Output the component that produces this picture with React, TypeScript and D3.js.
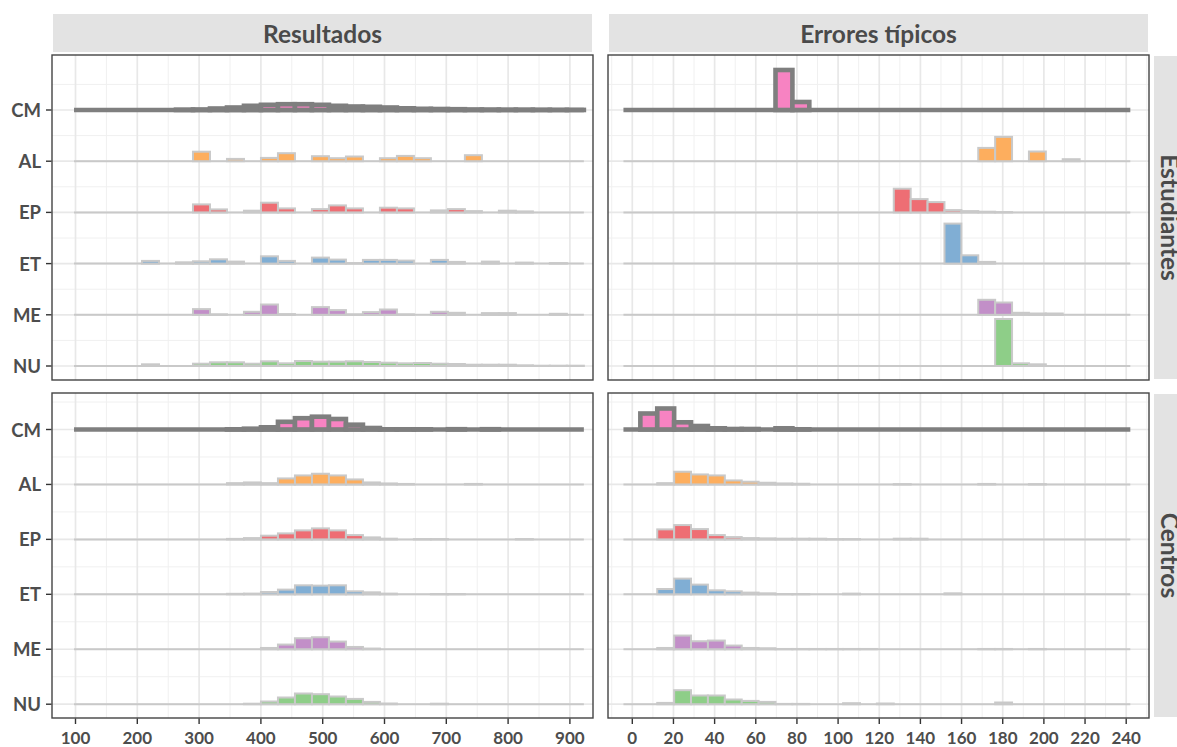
import React from 'react';
import * as d3 from 'd3';

// ---------- data ----------
const groups = ['CM', 'AL', 'EP', 'ET', 'ME', 'NU'];
const rowFacets = ['Estudiantes', 'Centros'];
const colFacets = ['Resultados', 'Errores típicos'];
const resultTicks = [100, 200, 300, 400, 500, 600, 700, 800, 900];
const errorTicks = [0, 20, 40, 60, 80, 100, 120, 140, 160, 180, 200, 220, 240];

// histogram bins (30 bins per column facet)
const resultBinStart = 97.6;
const resultBinWidth = 27.5;
const errorBinStart = -4.3;
const errorBinWidth = 8.21;

const groupColors = ['#F783C2', '#FDAE5E', '#EE6E74', '#80AED4', '#C28FC8', '#8ECE88'];

// bin heights (scaled density), Resultados x Estudiantes
const resEstCM = [0, 0, 0, 0, 0, 0, 0.3, 0.5, 1.5, 2.5, 4.2, 5.2, 5.8, 5.8, 5.2, 4.2, 3.5, 3.2, 2.5, 1.7, 1.2, 1, 0.8, 0.5, 0.4, 0.3, 0.3, 0.2, 0.1, 0.1];
const resEstAL = [0, 0, 0, 0, 0, 0, 0, 9.5, 0, 2.3, 0, 3.3, 8, 0, 5, 3, 4.7, 0, 3, 5.3, 3, 0, 0, 6, 0, 0, 0, 0, 0, 0];
const resEstEP = [0, 0, 0, 0, 0, 0, 0, 8, 3, 0, 1.7, 9.7, 4, 0, 3.3, 7, 4, 0, 4.7, 4, 0, 2, 3.3, 1.3, 0, 1.7, 1, 0, 0, 0];
const resEstET = [0, 0, 0, 0, 2.7, 0, 1.3, 2.3, 4.3, 2, 0, 7.3, 2.7, 0, 6, 4, 0.5, 3.7, 3.7, 3, 0, 3.7, 1.7, 0, 2, 0, 1, 0, 0.5, 0];
const resEstME = [0, 0, 0, 0, 0, 0, 0, 5.7, 0.5, 0, 3, 10.3, 0.7, 0, 7.7, 4.7, 0.5, 2.7, 5.3, 0.5, 0, 3, 2, 0, 1.7, 1.7, 0, 0, 1, 0];
const resEstNU = [0, 0, 0, 0, 1.7, 0, 0, 2.3, 3.7, 3.7, 2.3, 4.7, 2.7, 5, 4.3, 4.3, 4.7, 4, 3.3, 2.7, 3, 2.3, 2, 1.3, 1.3, 1.3, 0.7, 0.3, 0.3, 0.3];

// Errores típicos x Estudiantes
const errEstCM = [0, 0, 0, 0, 0, 0, 0, 0, 0, 40, 8, 0, 0, 0, 0, 0, 0, 0, 0, 0, 0, 0, 0, 0, 0, 0, 0, 0, 0, 0];
const errEstAL = [0, 0, 0, 0, 0, 0, 0, 0, 0, 0, 0, 0, 0, 0, 0, 0, 0, 0, 0, 0, 0, 13.3, 24.3, 0, 9.7, 0, 2, 0, 0, 0];
const errEstEP = [0, 0, 0, 0, 0, 0, 0, 0, 0, 0, 0, 0, 0, 0, 0, 0, 23.7, 13.3, 10.3, 2.3, 1.3, 0.7, 0.3, 0, 0, 0, 0, 0, 0, 0];
const errEstET = [0, 0, 0, 0, 0, 0, 0, 0, 0, 0, 0, 0, 0, 0, 0, 0, 0, 0, 0, 40, 8.3, 1.7, 0, 0, 0, 0, 0, 0, 0, 0];
const errEstME = [0, 0, 0, 0, 0, 0, 0, 0, 0, 0, 0, 0, 0, 0, 0, 0, 0, 0, 0, 0, 0, 15, 12.3, 2, 1.3, 1.3, 0, 0, 0, 0];
const errEstNU = [0, 0, 0, 0, 0, 0, 0, 0, 0, 0, 0, 0, 0, 0, 0, 0, 0, 0, 0, 0, 0, 0, 47, 2.7, 1.7, 0, 0, 0, 0, 0];

// Resultados x Centros
const resCenCM = [0, 0, 0, 0, 0, 0, 0, 0, 0, 0.2, 0.8, 2.2, 7.7, 11.3, 12.8, 10.5, 4.8, 1.5, 0.2, 0.2, 0.2, 0, 0.3, 0, 0.3, 0, 0, 0, 0, 0];
const resCenAL = [0, 0, 0, 0, 0, 0, 0, 0, 0, 1.3, 2, 1.3, 6, 9, 10.7, 9, 5, 2, 1, 0.5, 0, 0, 0, 0.5, 0, 0, 0, 0, 0, 0];
const resCenEP = [0, 0, 0, 0, 0, 0, 0, 0, 0, 0.5, 1.3, 3.7, 6, 9, 11, 9, 4.3, 2, 0.7, 0, 0.3, 0.3, 0, 0, 0, 0, 0.3, 0, 0, 0];
const resCenET = [0, 0, 0, 0, 0, 0, 0, 0, 0, 0.5, 0.7, 2.3, 4.7, 9, 8.7, 9, 3, 2, 0.7, 0, 0, 0.3, 0.3, 0, 0, 0, 0, 0, 0, 0];
const resCenME = [0, 0, 0, 0, 0, 0, 0, 0, 0, 0, 0, 1.3, 4.7, 11, 12, 7.7, 2.3, 0.7, 0, 0, 0, 0, 0, 0, 0, 0, 0, 0, 0, 0];
const resCenNU = [0, 0, 0, 0, 0, 0, 0, 0, 0, 0, 0.5, 2.7, 6.7, 10.7, 10, 7.7, 5.3, 2.3, 0.7, 0, 0, 0.5, 0, 0, 0, 0, 0, 0, 0, 0];

// Errores típicos x Centros
const errCenCM = [0, 16, 21, 7.2, 3.5, 1.2, 0.5, 0.5, 0, 1.2, 0.2, 0, 0, 0, 0, 0, 0, 0, 0, 0, 0, 0, 0, 0, 0, 0, 0, 0, 0, 0];
const errCenAL = [0, 0, 1.3, 12.7, 10, 9, 4, 2.7, 1.7, 1, 0.7, 0, 0, 0, 0, 0, 0.3, 0, 0, 0, 0, 0.5, 0, 0, 0.3, 0, 0, 0, 0, 0];
const errCenEP = [0, 0, 10, 14.3, 10.3, 4.3, 2.3, 1.3, 1, 0.7, 0.7, 0.7, 0.3, 0.3, 0, 0, 0.7, 0.7, 0, 0, 0, 0, 0, 0, 0, 0, 0, 0, 0, 0];
const errCenET = [0, 0, 5.3, 15.7, 9.7, 4, 3, 1.7, 1, 0.3, 0.3, 0, 0, 0.7, 0, 0, 0, 0, 0, 1, 0, 0, 0, 0, 0, 0, 0, 0, 0, 0];
const errCenME = [0, 0, 1.3, 13.7, 8, 8.7, 3.7, 1.3, 1, 0.3, 0.3, 0.3, 0.3, 0.3, 0.3, 0, 0, 0, 0, 0, 0, 0.3, 0.3, 0, 0.3, 0, 0, 0, 0, 0];
const errCenNU = [0, 0, 1.3, 14, 8.7, 8.7, 4.7, 3.3, 2.3, 0.3, 0.3, 0, 0, 1, 0, 0.7, 0, 0, 0, 0, 0, 0, 1.7, 0, 0, 0, 0, 0, 0, 0];

const panelSeries = [
  [
    [resEstCM, resEstAL, resEstEP, resEstET, resEstME, resEstNU],
    [errEstCM, errEstAL, errEstEP, errEstET, errEstME, errEstNU],
  ],
  [
    [resCenCM, resCenAL, resCenEP, resCenET, resCenME, resCenNU],
    [errCenCM, errCenAL, errCenEP, errCenET, errCenME, errCenNU],
  ],
];

// ---------- layout ----------
const W = 1177;
const H = 747;
const colBox = [
  { x0: 52, x1: 593 },
  { x0: 608, x1: 1149 },
];
const rowBox = [
  { y0: 55, y1: 380, first: 110, last: 366 },
  { y0: 393, y1: 718, first: 429.5, last: 704.2 },
];
const font = 'Lato, "Open Sans", "DejaVu Sans", sans-serif';
const textCol = '#4D4D4D';

const xScales = [
  d3.scaleLinear().domain([100, 900]).range([75.5, 569.9]),
  d3.scaleLinear().domain([0, 240]).range([632.3, 1126.2]),
];
const colTicks = [resultTicks, errorTicks];
const binStarts = [resultBinStart, errorBinStart];
const binWidths = [resultBinWidth, errorBinWidth];
const hScale = d3.scaleLinear().domain([0, 50]).range([0, 50]);

function minorBreaks(ticks: number[], scale: d3.ScaleLinear<number, number>, x0: number, x1: number) {
  const step = ticks[1] - ticks[0];
  const out: number[] = [];
  for (let v = ticks[0] - step / 2; v <= ticks[ticks.length - 1] + step / 2 + 1e-9; v += step) {
    const px = scale(v);
    if (px > x0 && px < x1) out.push(px);
  }
  return out;
}

function Panel({ r, c }: { r: number; c: number }) {
  const cb = colBox[c];
  const rb = rowBox[r];
  const xs = xScales[c];
  const ys = d3.scalePoint<string>().domain(groups).range([rb.first, rb.last]);
  const step = ys.step();
  const vMinor = minorBreaks(colTicks[c], xs, cb.x0, cb.x1);
  const hMinor: number[] = [];
  groups.forEach((g) => {
    const y = (ys(g) as number) - step / 2;
    if (y > rb.y0) hMinor.push(y);
  });
  const last = (ys(groups[groups.length - 1]) as number) + step / 2;
  if (last < rb.y1) hMinor.push(last);
  const series = panelSeries[r][c];
  const bs = binStarts[c];
  const bw = binWidths[c];
  const nb = series[0].length;
  const clipId = `clip-${r}-${c}`;

  return (
    <g>
      <defs>
        <clipPath id={clipId}>
          <rect x={cb.x0} y={rb.y0} width={cb.x1 - cb.x0} height={rb.y1 - rb.y0} />
        </clipPath>
      </defs>
      <rect x={cb.x0} y={rb.y0} width={cb.x1 - cb.x0} height={rb.y1 - rb.y0} fill="#FFFFFF" />
      <g clipPath={`url(#${clipId})`}>
        {vMinor.map((x, i) => (
          <line key={`vm${i}`} x1={x} x2={x} y1={rb.y0} y2={rb.y1} stroke="#F0F0F0" strokeWidth={1} />
        ))}
        {hMinor.map((y, i) => (
          <line key={`hm${i}`} x1={cb.x0} x2={cb.x1} y1={y} y2={y} stroke="#F0F0F0" strokeWidth={1} />
        ))}
        {colTicks[c].map((t) => (
          <line key={`vM${t}`} x1={xs(t)} x2={xs(t)} y1={rb.y0} y2={rb.y1} stroke="#E8E8E8" strokeWidth={1.7} />
        ))}
        {groups.map((g) => (
          <line key={`hM${g}`} x1={cb.x0} x2={cb.x1} y1={ys(g)} y2={ys(g)} stroke="#E8E8E8" strokeWidth={1.7} />
        ))}
        {groups.map((g, gi) => {
          const y0 = ys(g) as number;
          const isCM = gi === 0;
          const lineCol = isCM ? '#7F7F7F' : '#C9C9C9';
          const sw = isCM ? 4.6 : 2;
          const vals = series[gi];
          const xStart = xs(bs);
          const xEnd = xs(bs + nb * bw);
          return (
            <g key={g}>
              <line x1={xStart} x2={xEnd} y1={y0} y2={y0} stroke={lineCol} strokeWidth={sw} />
              {vals.map((v, k) => {
                if (v <= 0) return null;
                const xa = xs(bs + k * bw);
                const xb = xs(bs + (k + 1) * bw);
                const h = hScale(v);
                return (
                  <rect
                    key={k}
                    x={xa}
                    y={y0 - h}
                    width={xb - xa}
                    height={h}
                    fill={groupColors[gi]}
                    stroke={lineCol}
                    strokeWidth={sw}
                  />
                );
              })}
            </g>
          );
        })}
      </g>
      <rect
        x={cb.x0}
        y={rb.y0}
        width={cb.x1 - cb.x0}
        height={rb.y1 - rb.y0}
        fill="none"
        stroke="#444444"
        strokeWidth={1.4}
      />
    </g>
  );
}

export default function App() {
  return (
    <svg width={W} height={H} style={{ display: 'block', position: 'absolute', left: 0, top: 0 }}>
      <rect x={0} y={0} width={W} height={H} fill="#FFFFFF" />
      {/* column strips */}
      {colFacets.map((name, c) => {
        const cb = colBox[c];
        return (
          <g key={name}>
            <rect x={cb.x0 + 1} y={14} width={cb.x1 - cb.x0 - 2} height={38} fill="#E3E3E3" />
            <text
              x={(cb.x0 + cb.x1) / 2}
              y={33}
              textAnchor="middle"
              dominantBaseline="central"
              fontFamily={font}
              fontWeight={700}
              fontSize={24.5}
              fill="#4A4A4A"
            >
              {name}
            </text>
          </g>
        );
      })}
      {/* row strips */}
      {rowFacets.map((name, r) => {
        const rb = rowBox[r];
        const cy = (rb.y0 + rb.y1) / 2;
        return (
          <g key={name}>
            <rect x={1154} y={rb.y0 + 1} width={40} height={rb.y1 - rb.y0 - 2} fill="#E3E3E3" />
            <text
              transform={`translate(1161,${cy}) rotate(90)`}
              textAnchor="middle"
              fontFamily={font}
              fontWeight={700}
              fontSize={24.5}
              fill="#4A4A4A"
            >
              {name}
            </text>
          </g>
        );
      })}
      {rowFacets.map((_, r) => colFacets.map((__, c) => <Panel key={`${r}-${c}`} r={r} c={c} />))}
      {/* y axes */}
      {rowBox.map((rb, r) => {
        const ys = d3.scalePoint<string>().domain(groups).range([rb.first, rb.last]);
        return (
          <g key={`ya${r}`}>
            {groups.map((g) => (
              <g key={g}>
                <line x1={46} x2={51.5} y1={ys(g)} y2={ys(g)} stroke="#333333" strokeWidth={1.4} />
                <text
                  x={41}
                  y={ys(g)}
                  textAnchor="end"
                  dominantBaseline="central"
                  fontFamily={font}
                  fontWeight={700}
                  fontSize={18.5}
                  fill={textCol}
                >
                  {g}
                </text>
              </g>
            ))}
          </g>
        );
      })}
      {/* x axes */}
      {colBox.map((cb, c) => {
        const xs = xScales[c];
        return (
          <g key={`xa${c}`}>
            {colTicks[c].map((t) => (
              <g key={t}>
                <line x1={xs(t)} x2={xs(t)} y1={718.5} y2={724} stroke="#333333" strokeWidth={1.4} />
                <text
                  x={xs(t)}
                  y={743.5}
                  textAnchor="middle"
                  fontFamily={font}
                  fontWeight={700}
                  fontSize={17}
                  fill={textCol}
                >
                  {t}
                </text>
              </g>
            ))}
          </g>
        );
      })}
    </svg>
  );
}
